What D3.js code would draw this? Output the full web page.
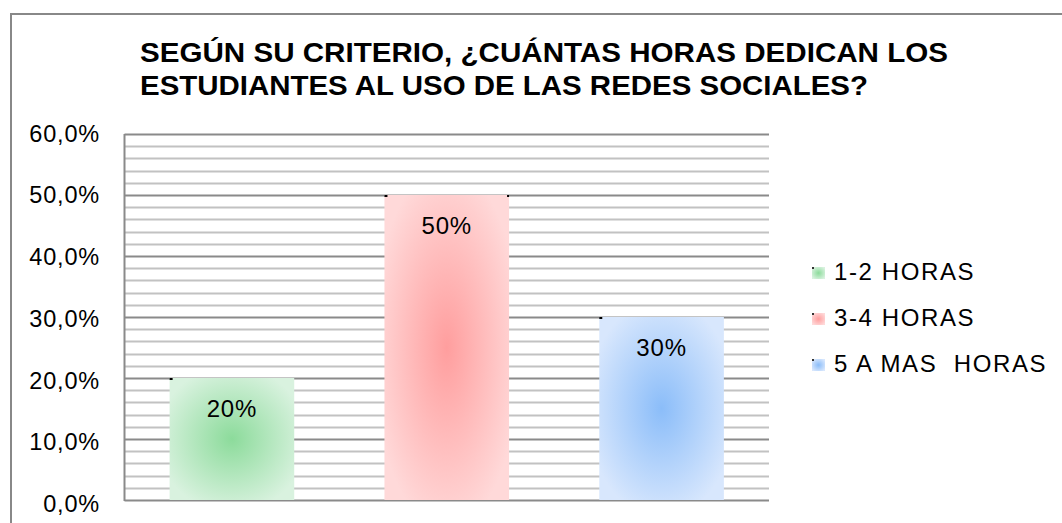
<!DOCTYPE html>
<html>
<head>
<meta charset="utf-8">
<script src="https://cdn.jsdelivr.net/npm/d3@7"></script>
<style>
  body { margin: 0; background: #fff; }
  text { font-family: "Liberation Sans", Arial, sans-serif; }
</style>
</head>
<body>
<svg id="chart" width="1062" height="523"></svg>
<script>
// data
var categories = ["1-2 HORAS", "3-4 HORAS", "5 A MAS  HORAS"];
var values = [0.20, 0.50, 0.30];
var valueLabels = ["20%", "50%", "30%"];
var yTicks = [0, 0.1, 0.2, 0.3, 0.4, 0.5, 0.6];
var titleLines = ["SEGÚN SU CRITERIO, ¿CUÁNTAS HORAS DEDICAN LOS",
                  "ESTUDIANTES AL USO DE LAS REDES SOCIALES?"];
// centre / edge colours of each bar's radial fill
var centerColors = ["#8cdb9b", "#ff9e9e", "#8bbdf9"];
var edgeColors = ["#d9f2df", "#ffd9d9", "#d8e7fd"];

var svg = d3.select("#chart");
var plotLeft = 124.5, plotRight = 769, plotTop = 134, plotBottom = 500;

// outer chart border (only left and top visible in the crop)
svg.append("path")
    .attr("d", "M11,523 V14 H1062")
    .attr("fill", "none")
    .attr("stroke", "#888")
    .attr("stroke-width", 2);

// title
svg.append("g").selectAll("text")
    .data(titleLines)
    .join("text")
    .attr("x", 140)
    .attr("y", (d, i) => 62 + i * 33)
    .attr("textLength", (d, i) => i == 0 ? 808 : 728)
    .attr("lengthAdjust", "spacingAndGlyphs")
    .attr("font-size", 28)
    .attr("font-weight", "bold")
    .text(d => d);

var x = d3.scaleBand()
    .domain(categories)
    .range([plotLeft, plotRight])
    .paddingInner(0.42)
    .paddingOuter(0.21);

var y = d3.scaleLinear()
    .domain([0, 0.6])
    .range([plotBottom, plotTop]);

// gradients
var defs = svg.append("defs");
categories.forEach(function(c, i) {
    var g = defs.append("radialGradient")
        .attr("id", "grad" + i)
        .attr("cx", "50%").attr("cy", "50%").attr("r", "60%");
    g.append("stop").attr("offset", "0%").attr("stop-color", centerColors[i]);
    g.append("stop").attr("offset", "100%").attr("stop-color", edgeColors[i]);
});

// gridlines: minor every 2%, major every 10%
var minor = d3.range(0, 0.6001, 0.02).filter(v => Math.round(v * 100) % 10 != 0);
svg.append("g").selectAll("line")
    .data(minor)
    .join("line")
    .attr("x1", plotLeft).attr("x2", plotRight)
    .attr("y1", d => Math.round(y(d)) + 0.5)
    .attr("y2", d => Math.round(y(d)) + 0.5)
    .attr("stroke", "#c2c2c2")
    .attr("stroke-width", 2);

svg.append("g").selectAll("line")
    .data(yTicks)
    .join("line")
    .attr("x1", plotLeft).attr("x2", plotRight)
    .attr("y1", d => Math.round(y(d)) + 0.5)
    .attr("y2", d => Math.round(y(d)) + 0.5)
    .attr("stroke", "#8a8a8a")
    .attr("stroke-width", 2);

// left axis line
svg.append("line")
    .attr("x1", plotLeft).attr("x2", plotLeft)
    .attr("y1", plotTop).attr("y2", plotBottom + 1)
    .attr("stroke", "#8a8a8a")
    .attr("stroke-width", 2);

// y tick labels (label spacing is a touch wider than the grid in the original)
var fmt = d => d3.format(".1f")(d * 100).replace(".", ",") + "%";
svg.append("g").selectAll("text")
    .data(yTicks)
    .join("text")
    .attr("x", 100)
    .attr("y", d => y(d) + 1.5 + 4.5 * (0.6 - d) / 0.6)
    .attr("text-anchor", "end")
    .attr("dominant-baseline", "middle")
    .attr("font-size", 23.5)
    .style("letter-spacing", "0.8px")
    .text(fmt);

// bars
svg.append("g").selectAll("rect")
    .data(values)
    .join("rect")
    .attr("x", (d, i) => x(categories[i]))
    .attr("y", d => y(d))
    .attr("width", x.bandwidth())
    .attr("height", d => y(0) - y(d))
    .attr("fill", (d, i) => "url(#grad" + i + ")");

// little dark marks at the bar corners
svg.append("g").selectAll("rect")
    .data(values)
    .join("rect")
    .attr("x", (d, i) => x(categories[i]))
    .attr("y", d => y(d))
    .attr("width", 3)
    .attr("height", 2)
    .attr("fill", "#000");
svg.append("rect")
    .attr("x", x(categories[1]) + x.bandwidth() - 2)
    .attr("y", y(values[1]))
    .attr("width", 2).attr("height", 2)
    .attr("fill", "#000");

// value labels
svg.append("g").selectAll("text")
    .data(values)
    .join("text")
    .attr("x", (d, i) => x(categories[i]) + x.bandwidth() / 2)
    .attr("y", d => y(d) + 33)
    .attr("text-anchor", "middle")
    .attr("dominant-baseline", "middle")
    .attr("font-size", 24)
    .style("letter-spacing", "0.8px")
    .text((d, i) => valueLabels[i]);

// legend
var legend = svg.append("g").selectAll("g")
    .data(categories)
    .join("g")
    .attr("transform", (d, i) => "translate(812," + (273 + i * 46) + ")");

legend.append("rect")
    .attr("x", 0).attr("y", -6)
    .attr("width", 13).attr("height", 12)
    .attr("fill", (d, i) => "url(#grad" + i + ")");
legend.append("rect")
    .attr("x", 0).attr("y", -6)
    .attr("width", 2).attr("height", 2)
    .attr("fill", "#333");
legend.append("text")
    .attr("x", 22)
    .attr("y", 1)
    .attr("dominant-baseline", "middle")
    .attr("font-size", 24)
    .style("letter-spacing", "1.6px")
    .style("white-space", "pre")
    .text(d => d);
</script>
</body>
</html>
